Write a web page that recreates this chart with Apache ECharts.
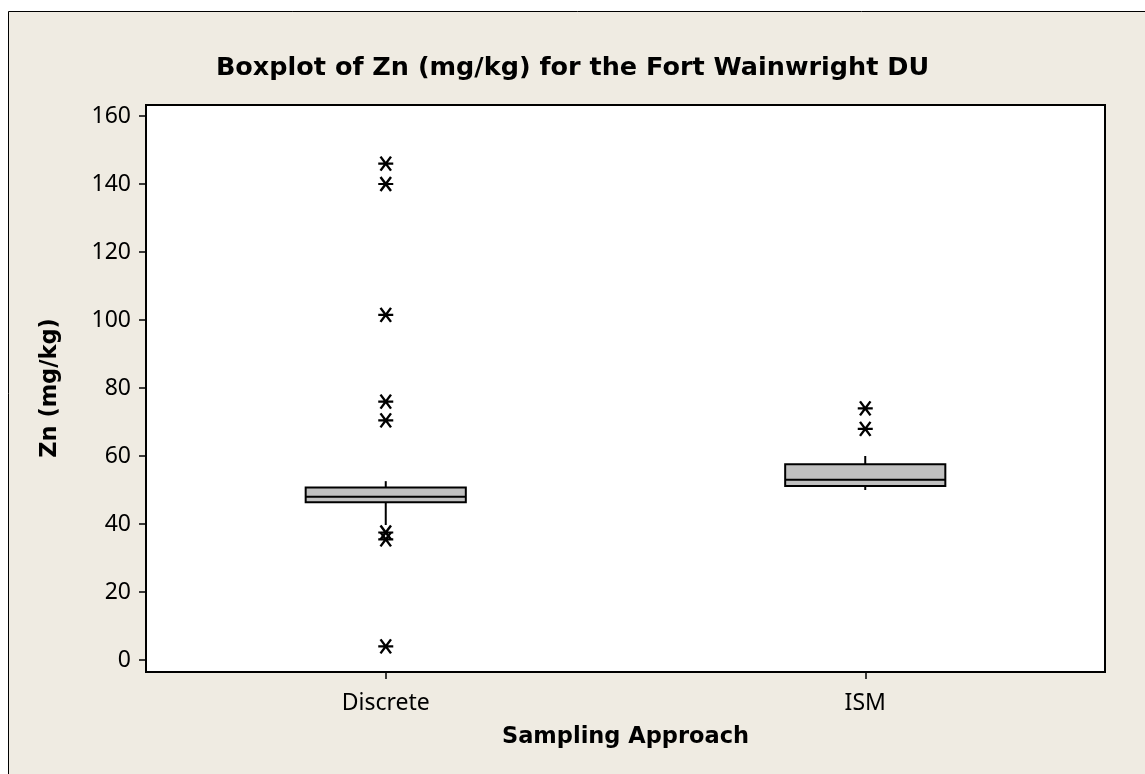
<!DOCTYPE html>
<html>
<head>
<meta charset="utf-8">
<script src="https://cdn.jsdelivr.net/npm/echarts@6/dist/echarts.min.js"></script>
<style>html,body{margin:0;padding:0;background:#fff;}#c{width:1145px;height:774px;}</style>
</head>
<body>
<div id="c"></div>
<script>
// ---- data ----
const categories = ['Discrete', 'ISM'];
const whiskerLow = [39.7, 50.0];
const q1 = [46.4, 51.2];
const median = [48.0, 53.0];
const q3 = [50.7, 57.6];
const whiskerHigh = [52.6, 60.0];
const outliersDiscrete = [146, 140, 101.5, 76, 70.5, 37.5, 35.5, 4];
const outliersISM = [74, 68];
const yTicks = [0, 20, 40, 60, 80, 100, 120, 140, 160];

const boxData = categories.map((c, i) => [i, whiskerLow[i], q1[i], median[i], q3[i], whiskerHigh[i]]);
const outlierData = outliersDiscrete.map(v => [0, v]).concat(outliersISM.map(v => [1, v]));

const FONT = 'Noto Sans';
const BFONT = 'DejaVu Sans';
const chart = echarts.init(document.getElementById('c'));

const PL = 146, PR = 1105, PT = 105, PB = 672;

chart.setOption({
  backgroundColor: '#ffffff',
  animation: false,
  title: {
    text: 'Boxplot of Zn (mg/kg) for the Fort Wainwright DU',
    left: 'center', top: 50,
    textStyle: { fontFamily: BFONT, fontWeight: 'bold', fontSize: 25.5, color: '#000' }
  },
  graphic: [
    { type: 'rect', z: -100, silent: true,
      shape: { x: 8.5, y: 11.5, width: 1300, height: 1000 },
      style: { fill: '#EFEBE2', stroke: '#000', lineWidth: 1 } },
    { type: 'rect', z: -90, silent: true,
      shape: { x: PL, y: PT, width: PR - PL, height: PB - PT },
      style: { fill: '#ffffff', stroke: '#000', lineWidth: 2 } }
  ],
  grid: [
    { left: PL, right: 1145 - PR, top: 116, bottom: 774 - 660 },
    { left: PL, right: 1145 - PR, top: PT, bottom: 774 - PB }
  ],
  xAxis: [
    {
      type: 'category', gridIndex: 0, data: categories, boundaryGap: true, show: false
    },
    {
      type: 'category', gridIndex: 1, data: categories, boundaryGap: true,
      name: 'Sampling Approach',
      nameLocation: 'middle',
      nameGap: 54,
      nameTextStyle: { fontFamily: BFONT, fontWeight: 'bold', fontSize: 22.5, color: '#000' },
      axisLine: { show: false },
      axisTick: { show: true, alignWithLabel: true, length: 7, lineStyle: { color: '#000', width: 1.5 } },
      axisLabel: { fontFamily: FONT, fontSize: 23, color: '#000', margin: 20 },
      splitLine: { show: false }
    }
  ],
  yAxis: [
    {
      type: 'value', gridIndex: 0,
      min: 0, max: 160, interval: 20,
      name: 'Zn (mg/kg)',
      nameLocation: 'middle',
      nameGap: 84,
      nameTextStyle: { fontFamily: BFONT, fontWeight: 'bold', fontSize: 22.5, color: '#000' },
      axisLine: { show: false },
      axisTick: { show: true, length: 7, lineStyle: { color: '#000', width: 1.5 } },
      axisLabel: { fontFamily: FONT, fontSize: 23, color: '#000', margin: 15,
        formatter: v => yTicks.indexOf(v) >= 0 ? String(v) : '' },
      splitLine: { show: false }
    },
    { type: 'value', gridIndex: 1, show: false, splitLine: { show: false } }
  ],
  series: [
    {
      type: 'custom',
      xAxisIndex: 0, yAxisIndex: 0,
      clip: false,
      data: boxData,
      encode: { x: 0, y: [1, 2, 3, 4, 5] },
      renderItem: function (params, api) {
        const idx = api.value(0);
        const band = api.size([1, 0])[0];
        const hw = band * 0.334 / 2;
        const pLow = api.coord([idx, api.value(1)]);
        const pQ1 = api.coord([idx, api.value(2)]);
        const pMed = api.coord([idx, api.value(3)]);
        const pQ3 = api.coord([idx, api.value(4)]);
        const pHigh = api.coord([idx, api.value(5)]);
        const x = pQ1[0];
        const ls = { stroke: '#000', lineWidth: 2 };
        return {
          type: 'group',
          children: [
            { type: 'line', shape: { x1: x, y1: pQ3[1], x2: x, y2: pHigh[1] }, style: ls },
            { type: 'line', shape: { x1: x, y1: pQ1[1], x2: x, y2: pLow[1] }, style: ls },
            { type: 'rect', shape: { x: x - hw, y: pQ3[1], width: 2 * hw, height: pQ1[1] - pQ3[1] },
              style: { fill: '#C0C0C0', stroke: '#000', lineWidth: 2 } },
            { type: 'line', shape: { x1: x - hw, y1: pMed[1], x2: x + hw, y2: pMed[1] }, style: ls }
          ]
        };
      }
    },
    {
      type: 'scatter',
      xAxisIndex: 0, yAxisIndex: 0,
      data: outlierData,
      symbol: 'path://M-10 0L10 0M-7 -9L7 9M-7 9L7 -9',
      symbolSize: [15, 14],
      itemStyle: { color: 'none', borderColor: '#000', borderWidth: 2.3, opacity: 1 },
      z: 5
    }
  ]
});
</script>
</body>
</html>
